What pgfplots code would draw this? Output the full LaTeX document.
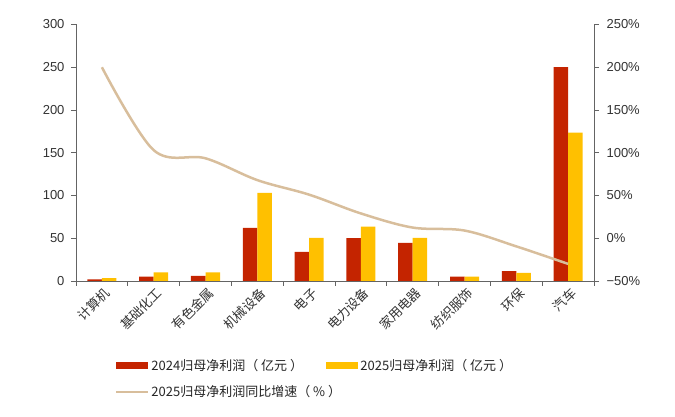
\documentclass[border=0pt]{standalone}
\usepackage{pgfplots}
\pgfplotsset{compat=1.18}
\usepackage{fontspec}
\setmainfont{Liberation Sans}
\newfontfamily\cjk{Noto Sans CJK SC}
\definecolor{barred}{RGB}{196,36,0}
\definecolor{baryellow}{RGB}{255,192,0}
\definecolor{linetan}{RGB}{216,190,156}
\definecolor{axgray}{RGB}{100,100,100}
\begin{document}
\begin{tikzpicture}
\path[use as bounding box] (-76pt,-136pt) rectangle (599pt,281pt);
\pgfplotsset{
  base/.style={
    scale only axis, width=518pt, height=256.5pt,
    xmin=-0.5, xmax=9.5,
    tick align=outside,
    axis line style={axgray, line width=0.8pt},
    tick style={axgray, line width=0.8pt},
    major tick length=5pt,
    tick label style={font=\fontsize{13}{15}\selectfont, text=black!80},
  }
}
\begin{axis}[base,
  ymin=0, ymax=300,
  ytick={0,50,100,150,200,250,300},
  yticklabels={0,50,100,150,200,250,300},
  y tick label style={xshift=-3pt},
  axis x line*=bottom, axis y line*=left,
  xtick={0,...,9},
  xticklabels={计算机,基础化工,有色金属,机械设备,电子,电力设备,家用电器,纺织服饰,环保,汽车},
  x tick label style={font=\cjk\fontsize{13}{15}\selectfont, rotate=45, anchor=north east, inner sep=1pt, xshift=2pt},
  major x tick style={draw=none},
  minor xtick={-0.5,0.5,...,9.5},
  minor tick length=5pt,
  minor x tick style={axgray, line width=0.8pt},
  legend columns=2,
  legend cell align=left,
  legend style={draw=none, at={(0.07,-0.29)}, anchor=north west,
    font=\cjk\fontsize{13}{15}\selectfont, text=black!85,
    /tikz/every even column/.append style={column sep=0pt},
    row sep=9.5pt},
]
\addplot[ybar, bar width=0.28, bar shift=-0.14, fill=barred, draw=none,
  legend image code/.code={\fill[barred] (0pt,-3.5pt) rectangle (32pt,3.5pt);}]
  coordinates {(0,2) (1,5) (2,6) (3,62) (4,34) (5,50) (6,44.5) (7,5) (8,11.5) (9,250)};
\addlegendentry{2024归母净利润（ 亿元 ）}
\addplot[ybar, bar width=0.28, bar shift=0.14, fill=baryellow, draw=none,
  legend image code/.code={\fill[baryellow] (0pt,-3.5pt) rectangle (32pt,3.5pt);}]
  coordinates {(0,3.5) (1,10) (2,10) (3,103) (4,50.5) (5,63.5) (6,50.5) (7,5) (8,9.5) (9,173.5)};
\addlegendentry{2025归母净利润（ 亿元 ）}
\addlegendimage{linetan, line width=2pt,
  legend image code/.code={\draw[linetan, line width=2pt] (0pt,0pt) -- (32pt,0pt);}}
\addlegendentry{\makebox[173pt][l]{2025归母净利润同比增速（ \% ）}}
\end{axis}
\begin{axis}[base,
  ymin=-50, ymax=250,
  ytick={-50,0,50,100,150,200,250},
  yticklabels={−50\%,0\%,50\%,100\%,150\%,200\%,250\%},
  y tick label style={xshift=4pt},
  axis y line*=right, axis x line=none,
]
\addplot[linetan, line width=2.5pt, smooth, tension=0.55]
  coordinates {(0,200) (1,103) (2,93.5) (3,68) (4,51) (5,29) (6,12.5) (7,9) (8,-9.5) (9,-30)};
\end{axis}
\end{tikzpicture}
\end{document}
